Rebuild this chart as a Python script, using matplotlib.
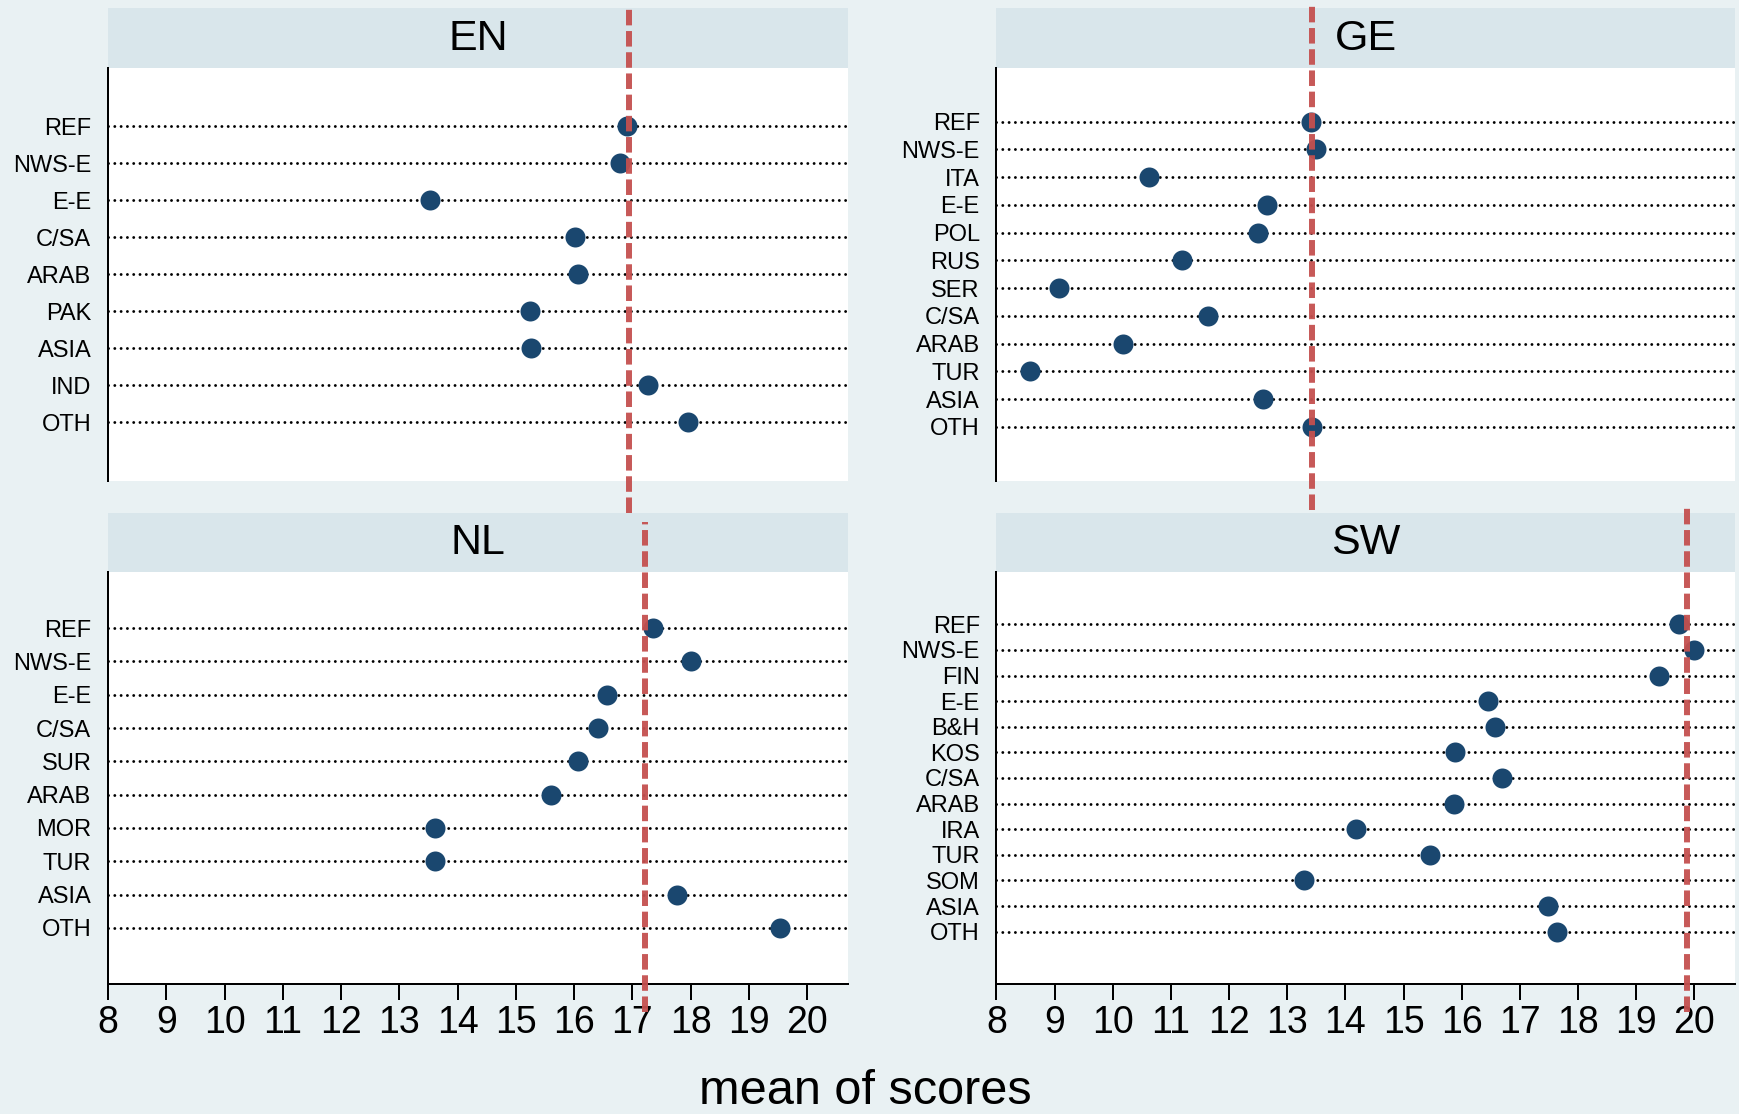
import matplotlib
matplotlib.use("Agg")
import matplotlib.pyplot as plt
import numpy as np

# ---------------- data ----------------
en_cats = ["REF", "NWS-E", "E-E", "C/SA", "ARAB", "PAK", "ASIA", "IND", "OTH"]
en_vals = [16.90, 16.78, 13.52, 16.02, 16.07, 15.25, 15.26, 17.26, 17.95]
en_ref = 16.94

ge_cats = ["REF", "NWS-E", "ITA", "E-E", "POL", "RUS", "SER", "C/SA", "ARAB", "TUR", "ASIA", "OTH"]
ge_vals = [13.40, 13.50, 10.63, 12.65, 12.50, 11.19, 9.08, 11.63, 10.17, 8.57, 12.59, 13.42]
ge_ref = 13.43

nl_cats = ["REF", "NWS-E", "E-E", "C/SA", "SUR", "ARAB", "MOR", "TUR", "ASIA", "OTH"]
nl_vals = [17.36, 18.00, 16.57, 16.41, 16.06, 15.60, 13.61, 13.62, 17.76, 19.54]
nl_ref = 17.21

sw_cats = ["REF", "NWS-E", "FIN", "E-E", "B&H", "KOS", "C/SA", "ARAB", "IRA", "TUR", "SOM", "ASIA", "OTH"]
sw_vals = [19.73, 20.00, 19.40, 16.45, 16.57, 15.88, 16.69, 15.86, 14.19, 15.45, 13.29, 17.49, 17.64]
sw_ref = 19.87

panel_titles = ["EN", "GE", "NL", "SW"]
x_ticks = list(range(8, 21))
x_label = "mean of scores"

# ---------------- style ----------------
plt.rcParams["font.family"] = ["Liberation Sans", "DejaVu Sans"]
BG = "#e9f1f3"
STRIP = "#d9e6eb"
NAVY = "#1a476f"
RED = "#c4504f"

W, H = 1740, 1114
fig = plt.figure(figsize=(W / 100, H / 100), dpi=100, facecolor=BG)

cols = {0: (108, 848), 1: (996.5, 1735)}
rows = {0: {"strip": (7.5, 67.5), "ax": (67.5, 481)},
        1: {"strip": (513, 572), "ax": (572, 984)}}

panels = [
    (panel_titles[0], en_cats, en_vals, en_ref, 0, 0, 0.142, (-0.077, 1.146)),
    (panel_titles[1], ge_cats, ge_vals, ge_ref, 1, 0, 0.131, (-0.070, 1.158)),
    (panel_titles[2], nl_cats, nl_vals, nl_ref, 0, 1, 0.136, (-0.068, 1.122)),
    (panel_titles[3], sw_cats, sw_vals, sw_ref, 1, 1, 0.127, (-0.068, 1.158)),
]


def fig_rect(x0, x1, y0, y1):
    return [x0 / W, 1 - y1 / H, (x1 - x0) / W, (y1 - y0) / H]


for title, cats, vals, ref, c, r, pfrac, (vmin, vmax) in panels:
    x0, x1 = cols[c]
    s0, s1 = rows[r]["strip"]
    a0, a1 = rows[r]["ax"]

    sax = fig.add_axes(fig_rect(x0, x1, s0, s1), zorder=0.5)
    sax.set_facecolor(STRIP)
    sax.set_xticks([])
    sax.set_yticks([])
    for sp in sax.spines.values():
        sp.set_visible(False)
    sax.text(0.5, 0.30, title, transform=sax.transAxes, ha="center",
             va="baseline", fontsize=31, color="black")

    ax = fig.add_axes(fig_rect(x0, x1, a0, a1), zorder=1)
    ax.set_facecolor("white")
    n = len(cats)
    y = np.arange(n)
    ax.scatter(vals, y, s=14.4 ** 2, color=NAVY, linewidths=0, zorder=3)
    ax.axvline(ref, ymin=vmin, ymax=vmax, color=RED, lw=4.3,
               linestyle=(0, (2.6, 0.95)), clip_on=False, zorder=4, alpha=0.95)

    pad = pfrac * (n - 1) / (1 - 2 * pfrac)
    ax.set_ylim(n - 1 + pad, -pad)
    ax.set_yticks(y)
    ax.set_yticklabels(cats, fontsize=17)
    ax.tick_params(axis="y", length=0, pad=12)
    ax.grid(axis="y", color="black", linestyle=(0, (0.01, 2.15)), linewidth=2.1,
            dash_capstyle="round")
    ax.set_axisbelow(True)
    ax.set_xlim(8, 20.7)

    for side in ("top", "right"):
        ax.spines[side].set_visible(False)
    ax.spines["left"].set_linewidth(1.44)
    ax.spines["left"].set_color("black")

    if r == 0:
        ax.spines["bottom"].set_visible(False)
        ax.set_xticks([])
    else:
        ax.spines["bottom"].set_linewidth(1.44)
        ax.spines["bottom"].set_color("black")
        ax.set_xticks(x_ticks)
        ax.set_xticklabels([str(t) for t in x_ticks])
        ax.tick_params(axis="x", length=11.3, width=1.44, labelsize=27, pad=4,
                       direction="out", color="black")

fig.text(0.4975, 0.009, x_label, ha="center", va="baseline", fontsize=35)

fig.savefig("out.png", dpi=100, facecolor=BG)
